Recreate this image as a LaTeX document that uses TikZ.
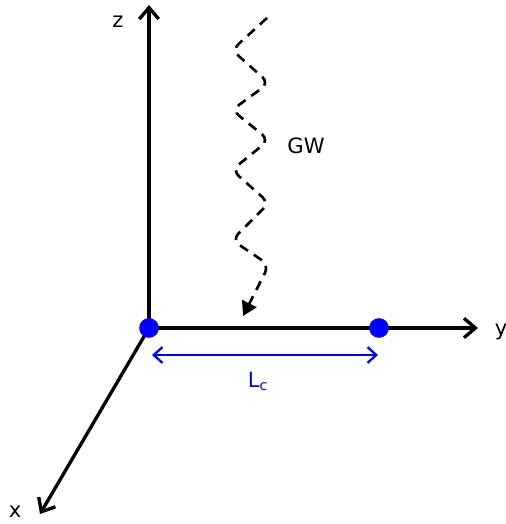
\documentclass[tikz,border=0pt]{standalone}
\usepackage{fontspec}
\setmainfont{DejaVu Sans}
\usetikzlibrary{arrows.meta}

\begin{document}
\begin{tikzpicture}[x=0.02cm, y=-0.02cm, >=Stealth,
    axis/.style={line width=1.9pt, -{Straight Barb[length=6.5pt, width=11pt]}},
    mass/.style={circle, fill=blue, inner sep=0pt, minimum size=11.2pt},
    lbl/.style={font=\fontsize{12}{14}\selectfont}]
    \useasboundingbox (0,0) rectangle (506,524);
    % axes
    \coordinate (O) at (149,328);
    \coordinate (Z) at (149,5);
    \coordinate (Y) at (478,328);
    \coordinate (X) at (40,514);
    \draw[axis] (O) -- (Z);
    \draw[axis] (O) -- (Y);
    \draw[axis] (O) -- (X);
    \node[lbl] (zl) at (118,22) {z};
    \node[lbl] (yl) at (501,332) {y};
    \node[lbl] (xl) at (15,512) {x};
    % test masses
    \node[mass] (m1) at (O) {};
    \node[mass] (m2) at (379,328) {};
    % arm length
    \coordinate (a1) at (152,355);
    \coordinate (a2) at (378,355);
    \draw[blue, line width=1.3pt, {Straight Barb[length=5pt, width=9pt]}-{Straight Barb[length=5pt, width=9pt]}] (a1) -- (a2);
    \node[lbl, text=blue] (lc) at (258,381) {L\textsubscript{c}};
    % gravitational wave
    \coordinate (gw0) at (267,18);
    \coordinate (gw1) at (243,316);
    \draw[line width=1.5pt, dash pattern=on 5.5pt off 4pt, rounded corners=5pt, -{Triangle[length=8pt, width=9pt]}]
        (gw0) -- (232,50) -- (269,83) -- (232,110) -- (269,140) -- (232,170)
        -- (269,203) -- (232,240) -- (269,265) -- (gw1);
    \node[lbl] (gw) at (306,146) {GW};
\end{tikzpicture}
\end{document}
